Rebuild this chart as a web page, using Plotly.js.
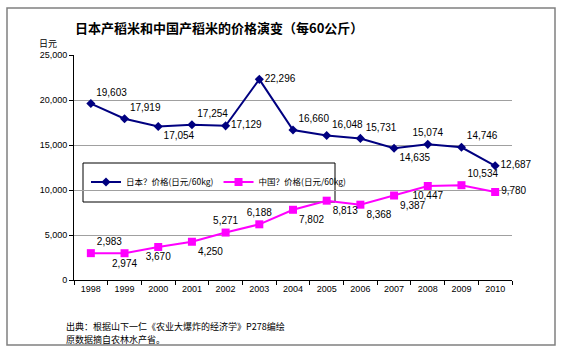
<!DOCTYPE html>
<html><head><meta charset="utf-8">
<script src="https://cdn.plot.ly/plotly-3.0.1.min.js"></script>
<style>html,body{margin:0;padding:0;background:#fff;}#chart{width:561px;height:353px;}</style>
</head><body><div id="chart"></div>
<script>
const years = ['1998','1999','2000','2001','2002','2003','2004','2005','2006','2007','2008','2009','2010'];
const japanPrice = [19603,17919,17054,17254,17129,22296,16660,16048,15731,14635,15074,14746,12687];
const chinaPrice = [2983,2974,3670,4250,5271,6188,7802,8813,8368,9387,10447,10534,9780];
const japanLabelPos = ['top right','top right','bottom right','top right','middle right','middle right','top right','top right','top right','bottom right','top center','top right','middle right'];
const chinaLabelPos = ['top right','bottom center','bottom center','bottom right','top center','top center','bottom right','bottom right','bottom right','bottom right','bottom center','top right','middle right'];
const seriesNames = ['日本？价格(日元/60kg)','中国？价格(日元/60kg)'];
const fmt = v => v.toLocaleString('en-US');
const F = 'Liberation Sans, Arial, sans-serif';
const CJK = 'Noto Sans CJK SC, sans-serif';

const L=74, T=55, W=438, H=225;
const px = x => (x-L)/W, py = y => (T+H-y)/H;

const traces = [
 {x: years, y: japanPrice, name: seriesNames[0], type:'scatter', mode:'lines+markers+text',
  line:{color:'#000080', width:2}, marker:{symbol:'diamond', size:7, color:'#000080'},
  text: japanPrice.map(fmt), textposition: japanLabelPos, textfont:{family:F, size:10, color:'#000'}, cliponaxis:false},
 {x: years, y: chinaPrice, name: seriesNames[1], type:'scatter', mode:'lines+markers+text',
  line:{color:'#FF00FF', width:2}, marker:{symbol:'square', size:8, color:'#FF00FF'},
  text: chinaPrice.map(fmt), textposition: chinaLabelPos, textfont:{family:F, size:10, color:'#000'}, cliponaxis:false}
];

const layout = {
 width:561, height:353, margin:{l:L, r:561-L-W, t:T, b:353-T-H},
 paper_bgcolor:'#fff', plot_bgcolor:'#fff',
 showlegend:true,
 legend:{orientation:'h', x:px(86), y:py(182), xanchor:'left', yanchor:'middle', bgcolor:'rgba(0,0,0,0)',
   font:{family:CJK, size:8.5, color:'#000'}, itemwidth:30},
 xaxis:{type:'category', range:[-0.5,12.5], showgrid:false, showline:true, linecolor:'#000', linewidth:1,
   ticks:'outside', tickson:'boundaries', ticklen:4, tickcolor:'#000', tickfont:{family:F, size:9, color:'#000'}, zeroline:false},
 yaxis:{range:[0,25000], dtick:5000, tickformat:',', showgrid:true, gridcolor:'#a0a0a0', gridwidth:1,
   showline:true, linecolor:'#000', linewidth:1, ticks:'outside', ticklen:4, tickcolor:'#000',
   tickfont:{family:F, size:9, color:'#000'}, zeroline:false},
 shapes:[
  {type:'rect', xref:'paper', yref:'paper', x0:px(7), x1:px(555), y0:py(345), y1:py(8), line:{color:'#808080', width:1.5}},
  {type:'rect', layer:'between', xref:'paper', yref:'paper', x0:px(83), x1:px(335), y0:py(202), y1:py(163), line:{color:'#000', width:1}, fillcolor:'#fff'}
 ],
 annotations:[
  {text:'<b>日本产稻米和中国产稻米的价格演变（每60公斤）</b>', xref:'paper', yref:'paper', x:px(73), y:py(27), xanchor:'left', yanchor:'middle', showarrow:false, font:{family:CJK, size:13, color:'#000'}},
  {text:'日元', xref:'paper', yref:'paper', x:px(48), y:py(44), xanchor:'center', yanchor:'middle', showarrow:false, font:{family:CJK, size:9, color:'#000'}},
  {text:'出典：根据山下一仁《农业大爆炸的经济学》P278编绘', xref:'paper', yref:'paper', x:px(64), y:py(326), xanchor:'left', yanchor:'middle', showarrow:false, font:{family:CJK, size:9, color:'#000'}},
  {text:'原数据摘自农林水产省。', xref:'paper', yref:'paper', x:px(64), y:py(339), xanchor:'left', yanchor:'middle', showarrow:false, font:{family:CJK, size:9, color:'#000'}}
 ]
};
Plotly.newPlot('chart', traces, layout, {displayModeBar:false, staticPlot:true});
</script></body></html>
